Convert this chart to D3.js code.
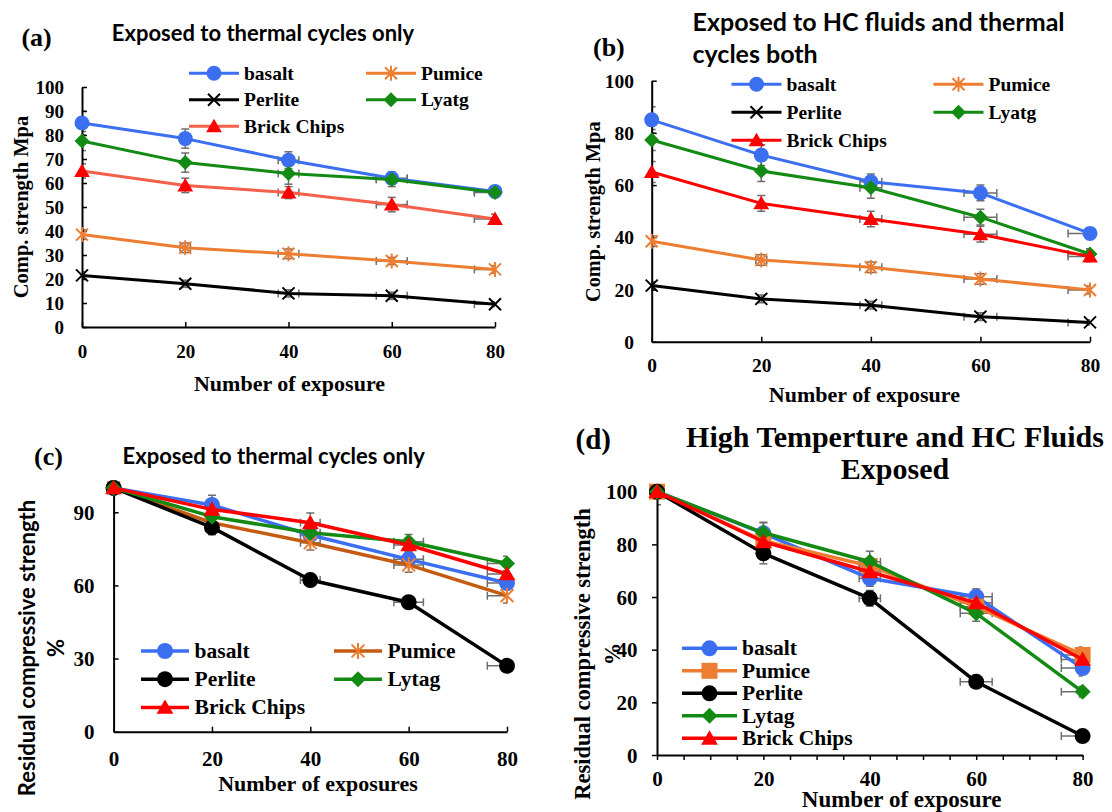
<!DOCTYPE html>
<html>
<head>
<meta charset="utf-8">
<script src="https://cdn.jsdelivr.net/npm/d3@7/dist/d3.min.js"></script>
<style>
body { margin: 0; background: #fff; }
svg { display: block; }
</style>
</head>
<body>
<script>
// Compressive strength of concrete with different aggregates vs number of exposures

var xVals = [0, 20, 40, 60, 80];
var namesAB = ["basalt", "Pumice", "Perlite", "Lyatg", "Brick Chips"];
var namesCD = ["basalt", "Pumice", "Perlite", "Lytag", "Brick Chips"];

// (a) thermal cycles only, Mpa  (rows: basalt, pumice, perlite, lyatg, brick)
var strengthA = [
    [85, 78.5, 69.5, 62, 56.5],
    [38.5, 33, 30.5, 27.5, 24],
    [21.5, 18, 14, 13, 9.5],
    [77.5, 68.5, 64, 61.5, 56],
    [65, 59, 56, 51, 45]
];
var yErrA = [[5, 4, 3.5, 2.5, 2], [2, 2, 2, 1.5, 1.5], [1.5, 1.5, 1.5, 1.5, 1], [4, 4, 4.5, 3, 2], [3, 3, 2.5, 3, 2]];
var xErrA = [[0, 0, 2, 3, 4], [0, 1, 2, 3, 4], [0, 0, 2, 3, 4], [0, 0, 2, 3, 4], [0, 0, 2, 3, 4]];

// (b) HC fluids and thermal cycles, Mpa
var strengthB = [
    [85, 71.5, 61.3, 57, 41.5],
    [38.5, 31.3, 28.5, 24, 19.8],
    [21.5, 16.4, 14, 9.6, 7.4],
    [77.3, 65.4, 59, 47.7, 33.6],
    [65, 53, 47, 41.2, 32.6]
];
var yErrB = [[5, 4, 3, 3, 2], [2, 2, 2, 2, 1.5], [1.5, 1.5, 1.5, 1.5, 1], [4, 4, 4, 3, 2], [4, 3, 3, 3, 2]];
var xErrB = [[0, 0, 2, 3, 4], [0, 1, 2, 3, 4], [0, 0, 2, 3, 4], [0, 0, 2, 3, 4], [0, 0, 2, 3, 4]];

// (c) residual strength %, thermal cycles only
var residualC = [
    [100, 93, 80.7, 70.7, 61],
    [100, 85.7, 77.5, 68.4, 55.8],
    [100, 83.8, 62.2, 53.1, 27],
    [100, 88.2, 81.6, 77.9, 69],
    [100, 91.2, 85.7, 76.6, 64.7]
];
var yErrC = [[2, 4, 3, 3, 2], [1, 2, 3, 3, 3], [1, 3, 2, 2, 2], [1, 2, 2, 3, 3], [1, 2, 4, 3, 3]];
var xErrC = [[0, 0, 2, 3, 4], [0, 0, 2, 3, 4], [0, 0, 2, 3, 4], [0, 0, 2, 3, 4], [0, 0, 2, 3, 4]];

// (d) residual strength %, high temperature and HC fluids
var residualD = [
    [100, 84.2, 67.1, 60.1, 33],
    [100, 81.4, 71.8, 56.3, 38],
    [100, 76.6, 59.5, 27.8, 7.2],
    [100, 84.4, 73.4, 53.8, 24],
    [100, 81, 69.6, 57.8, 36.3]
];
var yErrD = [[5, 4, 3, 3, 3], [0, 2, 3, 3, 3], [2, 4, 3, 2, 2], [2, 4, 4, 3, 2], [2, 2, 3, 3, 2]];
var xErrD = [[0, 0, 2, 3, 4], [0, 0, 2, 3, 4], [0, 0, 2, 3, 4], [0, 0, 2, 3, 4], [0, 0, 2, 3, 4]];

var serif = "'Liberation Serif', 'Times New Roman', Tinos, serif";
var sans = "Lato, 'Open Sans', sans-serif";
var errColor = "#6e6e6e";

var svg = d3.select("body").append("svg")
    .attr("width", 1112)
    .attr("height", 812);

// marker shapes, r = half size
function markerPath(type, r) {
    if (type === "circle") return d3.symbol(d3.symbolCircle, Math.PI * r * r)();
    if (type === "diamond") return "M0," + (-r) + "L" + r + ",0L0," + r + "L" + (-r) + ",0Z";
    if (type === "triangle") return "M0," + (-r) + "L" + (r * 1.05) + "," + (r * 0.8) + "L" + (-r * 1.05) + "," + (r * 0.8) + "Z";
    if (type === "square") return "M" + (-r) + "," + (-r) + "h" + (2 * r) + "v" + (2 * r) + "h" + (-2 * r) + "Z";
    var k = r * 0.8;
    var p = "M" + (-k) + "," + (-k) + "L" + k + "," + k + "M" + (-k) + "," + k + "L" + k + "," + (-k);
    if (type === "star") p += "M0," + (-r) + "L0," + r;
    return p;
}

function addMarker(g, type, cx, cy, r, color) {
    var stroked = (type === "x" || type === "star");
    g.append("path")
        .attr("d", markerPath(type, r))
        .attr("transform", "translate(" + cx + "," + cy + ")")
        .attr("fill", stroked ? "none" : color)
        .attr("stroke", stroked ? color : "none")
        .attr("stroke-width", stroked ? 2 : 0);
}

function styleText(sel, family, size) {
    return sel.style("font-family", family)
        .style("font-weight", "bold")
        .style("font-size", size + "px");
}

var panels = [
    {
        id: "a", vals: strengthA, yErr: yErrA, xErr: xErrA, names: namesAB,
        left: 82, right: 495, top: 87, bottom: 327,
        yTicks: d3.range(0, 101, 10), ticksIn: true, tickSize: 19, yLabelRight: 64, xLabelY: 351.7,
        lineColors: ["#3b6ff0", "#ed7d31", "#000000", "#138a13", "#f4604a"],
        markColors: ["#3b6ff0", "#ed7d31", "#000000", "#138a13", "#ff0000"],
        markers: ["circle", "star", "x", "diamond", "triangle"], r: 7.5, lineWidth: 3,
        title: {lines: ["Exposed to thermal cycles only"], x: 111.8, y: [32], size: 22, font: sans, anchor: "start"},
        tag: {text: "(a)", x: 21.4, y: 37, size: 26},
        xTitle: {text: "Number of exposure", x: 289.5, y: 383, size: 22},
        yTitle: {lines: ["Comp. strength Mpa"], x: [21.4], y: 207, size: 20.5, font: serif},
        legend: {x0: 189, len: 50, textOff: 55, colW: 177, y0: 73.3, rowH: 26.5, cols: 2, size: 19.5}
    },
    {
        id: "b", vals: strengthB, yErr: yErrB, xErr: xErrB, names: namesAB,
        left: 651.7, right: 1090, top: 80.7, bottom: 341.7,
        yTicks: d3.range(0, 101, 20), ticksIn: true, tickSize: 19.5, yLabelRight: 634, xLabelY: 365.5,
        lineColors: ["#3b6ff0", "#ed7d31", "#000000", "#138a13", "#ff0000"],
        markColors: ["#3b6ff0", "#ed7d31", "#000000", "#138a13", "#ff0000"],
        markers: ["circle", "star", "x", "diamond", "triangle"], r: 7.5, lineWidth: 3,
        title: {lines: ["Exposed to HC fluids and thermal", "cycles both"], x: 692.5, y: [20.7, 53.3], size: 25, font: sans, anchor: "start"},
        tag: {text: "(b)", x: 593, y: 47.5, size: 26},
        xTitle: {text: "Number of exposure", x: 864.4, y: 394, size: 22},
        yTitle: {lines: ["Comp. strength Mpa"], x: [593.2], y: 211.7, size: 20.3, font: serif},
        legend: {x0: 731.5, len: 50, textOff: 55, colW: 202, y0: 84.3, rowH: 28, cols: 2, size: 19.5}
    },
    {
        id: "c", vals: residualC, yErr: yErrC, xErr: xErrC, names: namesCD,
        left: 113.6, right: 507, top: 487.9, bottom: 731.7,
        yTicks: [0, 30, 60, 90], ticksIn: true, tickSize: 21, yLabelRight: 94.6, xLabelY: 759.3,
        lineColors: ["#3b6ff0", "#c55a11", "#000000", "#138a13", "#ff0000"],
        markColors: ["#3b6ff0", "#ed7d31", "#000000", "#138a13", "#ff0000"],
        markers: ["circle", "star", "circle", "diamond", "triangle"], r: 8, lineWidth: 3.5,
        title: {lines: ["Exposed to thermal cycles only"], x: 122.5, y: [455], size: 22, font: sans, anchor: "start"},
        tag: {text: "(c)", x: 34, y: 456, size: 26},
        xTitle: {text: "Number of exposures", x: 318, y: 783.3, size: 22},
        yTitle: {lines: ["Residual compressive strength", "%"], x: [26.8, 55.4], y: 648, size: 22, font: sans},
        legend: {x0: 141, len: 48, textOff: 53.6, colW: 193, y0: 651, rowH: 28.2, cols: 2, size: 21.5}
    },
    {
        id: "d", vals: residualD, yErr: yErrD, xErr: xErrD, names: namesCD,
        left: 657, right: 1082.6, top: 491.7, bottom: 755,
        yTicks: d3.range(0, 101, 20), ticksIn: false, minorX: 5, tickSize: 21, yLabelRight: 637.6, xLabelY: 778.5,
        lineColors: ["#3b6ff0", "#ed7d31", "#000000", "#138a13", "#ff0000"],
        markColors: ["#3b6ff0", "#ed7d31", "#000000", "#138a13", "#ff0000"],
        markers: ["circle", "square", "circle", "diamond", "triangle"], r: 8, lineWidth: 3.5,
        title: {lines: ["High Temperture and HC Fluids", "Exposed"], x: 895, y: [436.7, 468.3], size: 30, font: serif, anchor: "middle"},
        tag: {text: "(d)", x: 575.5, y: 439, size: 29},
        xTitle: {text: "Number of exposure", x: 901.7, y: 799, size: 23},
        yTitle: {lines: ["Residual compressive strength", "%"], x: [582.6, 612.7], y: 654, size: 22.5, font: serif},
        legend: {x0: 682, len: 55, textOff: 60, colW: 0, y0: 648.3, rowH: 22.5, cols: 1, size: 21.5}
    }
];

panels.forEach(drawPanel);

function drawPanel(p) {
    var x = d3.scaleLinear().domain([0, 80]).range([p.left, p.right]);
    var y = d3.scaleLinear().domain([0, 100]).range([p.bottom, p.top]);
    var g = svg.append("g").attr("class", "panel-" + p.id);

    svg.append("clipPath").attr("id", "clip-" + p.id)
        .append("rect")
        .attr("x", p.left).attr("y", p.top)
        .attr("width", p.right - p.left).attr("height", p.bottom - p.top);

    // error bars (clipped to the plot area like excel does)
    var eb = g.append("g").attr("clip-path", "url(#clip-" + p.id + ")")
        .attr("stroke", errColor).attr("stroke-width", 1.5);
    p.vals.forEach(function(series, s) {
        series.forEach(function(v, i) {
            var cx = x(xVals[i]), cy = y(v);
            var e = p.yErr[s][i], xe = p.xErr[s][i];
            if (e > 0) {
                eb.append("line").attr("x1", cx).attr("x2", cx).attr("y1", y(v - e)).attr("y2", y(v + e));
                eb.append("line").attr("x1", cx - 4).attr("x2", cx + 4).attr("y1", y(v - e)).attr("y2", y(v - e));
                eb.append("line").attr("x1", cx - 4).attr("x2", cx + 4).attr("y1", y(v + e)).attr("y2", y(v + e));
            }
            if (xe > 0) {
                var xl = x(xVals[i] - xe), xr = x(xVals[i] + xe);
                eb.append("line").attr("x1", xl).attr("x2", xr).attr("y1", cy).attr("y2", cy);
                eb.append("line").attr("x1", xl).attr("x2", xl).attr("y1", cy - 4).attr("y2", cy + 4);
                eb.append("line").attr("x1", xr).attr("x2", xr).attr("y1", cy - 4).attr("y2", cy + 4);
            }
        });
    });

    // axes
    var tick = p.ticksIn ? -5 : 5;
    var yAxis = d3.axisLeft(y).tickValues(p.yTicks).tickSizeInner(tick).tickSizeOuter(0);
    var xTickVals = p.minorX ? d3.range(0, 81, p.minorX) : xVals;
    var xAxis = d3.axisBottom(x).tickValues(xTickVals).tickSizeInner(tick).tickSizeOuter(0)
        .tickFormat(function(d) { return xVals.indexOf(d) > -1 ? d : ""; });

    var ya = g.append("g").attr("transform", "translate(" + p.left + ",0)").call(yAxis);
    var xa = g.append("g").attr("transform", "translate(0," + p.bottom + ")").call(xAxis);

    [ya, xa].forEach(function(a) {
        a.attr("font-family", null).attr("font-size", null);
        a.select(".domain").attr("stroke", "#000").attr("stroke-width", 2);
        a.selectAll(".tick line").attr("stroke", "#000").attr("stroke-width", 1.5);
        styleText(a.selectAll("text"), serif, p.tickSize)
            .attr("fill", "#000").attr("dy", null).attr("dominant-baseline", "central");
    });
    ya.selectAll("text").attr("x", p.yLabelRight - p.left);
    xa.selectAll("text").attr("y", p.xLabelY - p.bottom);

    // lines then markers
    var line = d3.line()
        .x(function(d, i) { return x(xVals[i]); })
        .y(function(d) { return y(d); });

    p.vals.forEach(function(series, s) {
        g.append("path")
            .datum(series)
            .attr("d", line)
            .attr("fill", "none")
            .attr("stroke", p.lineColors[s])
            .attr("stroke-width", p.lineWidth)
            .attr("stroke-linejoin", "round");
        series.forEach(function(v, i) {
            addMarker(g, p.markers[s], x(xVals[i]), y(v), p.r, p.markColors[s]);
        });
    });

    // legend
    var L = p.legend;
    p.names.forEach(function(name, s) {
        var col = s % L.cols, row = Math.floor(s / L.cols);
        var lx = L.x0 + col * L.colW, ly = L.y0 + row * L.rowH;
        g.append("line")
            .attr("x1", lx).attr("x2", lx + L.len)
            .attr("y1", ly).attr("y2", ly)
            .attr("stroke", p.lineColors[s])
            .attr("stroke-width", p.lineWidth);
        addMarker(g, p.markers[s], lx + L.len / 2, ly, p.r, p.markColors[s]);
        styleText(g.append("text"), serif, L.size)
            .attr("x", lx + L.textOff).attr("y", ly)
            .attr("dominant-baseline", "central")
            .text(name);
    });

    // titles
    p.title.lines.forEach(function(t, i) {
        styleText(g.append("text"), p.title.font, p.title.size)
            .attr("x", p.title.x).attr("y", p.title.y[i])
            .attr("text-anchor", p.title.anchor)
            .attr("dominant-baseline", "central")
            .text(t);
    });

    styleText(g.append("text"), serif, p.tag.size)
        .attr("x", p.tag.x).attr("y", p.tag.y)
        .attr("dominant-baseline", "central")
        .text(p.tag.text);

    styleText(g.append("text"), serif, p.xTitle.size)
        .attr("x", p.xTitle.x).attr("y", p.xTitle.y)
        .attr("text-anchor", "middle")
        .attr("dominant-baseline", "central")
        .text(p.xTitle.text);

    p.yTitle.lines.forEach(function(t, i) {
        styleText(g.append("text"), p.yTitle.font, p.yTitle.size)
            .attr("transform", "translate(" + p.yTitle.x[i] + "," + p.yTitle.y + ")rotate(-90)")
            .attr("text-anchor", "middle")
            .attr("dominant-baseline", "central")
            .text(t);
    });
}
</script>
</body>
</html>
